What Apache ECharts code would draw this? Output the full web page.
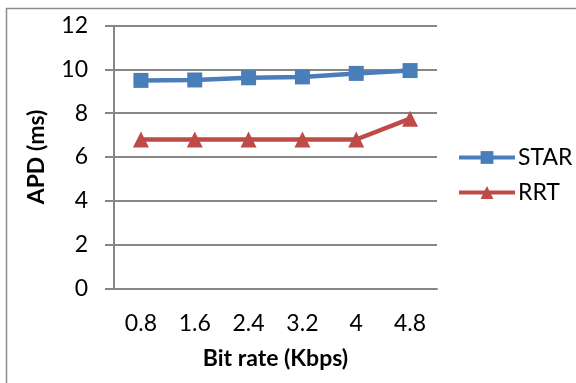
<!DOCTYPE html>
<html>
<head>
<meta charset="utf-8">
<script src="https://cdn.jsdelivr.net/npm/echarts@6/dist/echarts.min.js"></script>
<style>
  html, body { margin: 0; padding: 0; background: #fff; }
  #chart { width: 576px; height: 383px; }
</style>
</head>
<body>
<div id="chart"></div>
<script>
// Average packet delay versus bit rate for two protocols
const bitRates = ['0.8', '1.6', '2.4', '3.2', '4', '4.8'];
const starDelay = [9.5, 9.52, 9.62, 9.66, 9.82, 9.95];
const rrtDelay = [6.8, 6.8, 6.8, 6.8, 6.8, 7.75];
const yTicks = { min: 0, max: 12, interval: 2 };

const FONT = 'Lato, "Open Sans", sans-serif';
const BLUE = '#4a7ebb';
const RED = '#be4b48';

const chart = echarts.init(document.getElementById('chart'), null, { renderer: 'canvas' });

chart.setOption({
  animation: false,
  backgroundColor: '#fff',
  graphic: [{
    type: 'rect',
    shape: { x: 6.5, y: 8.5, width: 600, height: 400 },
    style: { fill: 'none', stroke: '#8c8c8c', lineWidth: 1.5 },
    silent: true
  }],
  grid: { left: 114, top: 25.7, width: 323, height: 262.6, containLabel: false },
  legend: {
    orient: 'vertical',
    left: 452,
    top: 141,
    itemWidth: 56,
    itemHeight: 16,
    itemGap: 12,
    lineStyle: { width: 4 },
    textStyle: { fontFamily: FONT, fontSize: 23, lineHeight: 23, color: '#000', padding: [0, 0, 0, -2] },
    data: ['STAR', 'RRT']
  },
  xAxis: {
    type: 'category',
    data: bitRates,
    boundaryGap: true,
    name: 'Bit rate (Kbps)',
    nameLocation: 'middle',
    nameGap: 59,
    nameTextStyle: { fontFamily: FONT, fontSize: 23, fontWeight: 'bold', color: '#000' },
    axisLine: { lineStyle: { color: '#868686', width: 2 } },
    axisTick: { show: false },
    axisLabel: { fontFamily: FONT, fontSize: 23, color: '#000', margin: 24 },
    splitLine: { show: false }
  },
  yAxis: {
    type: 'value',
    min: yTicks.min,
    max: yTicks.max,
    interval: yTicks.interval,
    name: 'APD (ms)',
    nameLocation: 'middle',
    nameGap: 66,
    nameRotate: 90,
    nameTextStyle: { fontFamily: FONT, fontSize: 23, fontWeight: 'bold', color: '#000' },
    axisLine: { show: true, lineStyle: { color: '#868686', width: 2 } },
    axisTick: { show: true, inside: false, length: 9, lineStyle: { color: '#868686', width: 2 } },
    axisLabel: { fontFamily: FONT, fontSize: 23, color: '#000', margin: 26 },
    splitLine: { show: true, lineStyle: { color: '#868686', width: 2 } }
  },
  series: [
    {
      name: 'STAR',
      type: 'line',
      data: starDelay,
      symbol: 'rect',
      symbolSize: 15,
      itemStyle: { color: BLUE },
      lineStyle: { color: BLUE, width: 4.5 }
    },
    {
      name: 'RRT',
      type: 'line',
      data: rrtDelay,
      symbol: 'triangle',
      symbolSize: 16,
      itemStyle: { color: RED },
      lineStyle: { color: RED, width: 4.5 }
    }
  ]
});
</script>
</body>
</html>
